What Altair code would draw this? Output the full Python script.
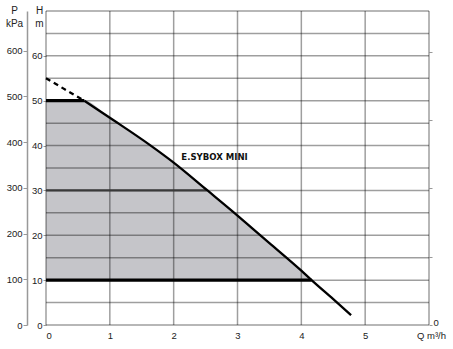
import altair as alt
import pandas as pd

# ---- data ----
area_q = [0, 0.6, 1.0, 1.63, 2.0, 2.52, 3.0, 3.25, 3.5, 4.0, 4.16]
area_h = [50, 50, 46.2, 40.1, 36.2, 30.1, 24.4, 21.3, 18.25, 12.1, 10]

curve_q = [0.6, 1.0, 1.63, 2.0, 2.52, 3.0, 3.25, 3.5, 4.0, 4.16, 4.5, 4.78]
curve_h = [50, 46.2, 40.1, 36.2, 30.1, 24.4, 21.3, 18.25, 12.1, 10, 5.75, 2.2]

dash_q = [0, 0.6]
dash_h = [55, 50]

seg_level = [10, 30, 50]
seg_start = [0, 0, 0]
seg_end = [4.16, 2.52, 0.6]
seg_width = [3.2, 2.2, 3.2]
seg_color = ["#000000", "#3a3a3a", "#000000"]

grid_q = [0, 1, 2, 3, 4, 5, 6]
grid_h = list(range(0, 75, 5))

q_ticks = [0, 1, 2, 3, 4, 5]
h_ticks = [0, 10, 20, 30, 40, 50, 60]
p_ticks = [0, 100, 200, 300, 400, 500, 600]
ft_ticks = [0, 50, 100, 150, 200]

label_text = ["E.SYBOX MINI"]
label_q = [2.12]
label_h = [37.5]

H_MAX = 70
P_MAX = H_MAX * 9.81
FT_MAX = H_MAX / 0.3048

area_df = pd.DataFrame({"Q": area_q, "H": area_h})
curve_df = pd.DataFrame({"Q": curve_q, "H": curve_h})
dash_df = pd.DataFrame({"Q": dash_q, "H": dash_h})
seg_df = pd.DataFrame({"H": seg_level, "Q": seg_start, "Q2": seg_end,
                       "w": seg_width, "c": seg_color})
gq_df = pd.DataFrame({"Q": grid_q})
gh_df = pd.DataFrame({"H": grid_h})
lab_df = pd.DataFrame({"t": label_text, "Q": label_q, "H": label_h})

xs = alt.Scale(domain=[0, 6], nice=False, zero=False)
ys = alt.Scale(domain=[0, H_MAX], nice=False, zero=False)
LF = "Liberation Sans"

x_axis = alt.Axis(values=q_ticks, format="d", grid=False, domain=False,
                  ticks=False, labelPadding=5, labelFontSize=9.5,
                  labelColor="#222", labelFont=LF, title="Q m³/h",
                  titleX=385, titleY=10, titleAlign="center",
                  titleBaseline="middle", titleFontWeight="normal",
                  titleFontSize=9.5, titleFont=LF, titleColor="#222")
h_axis = alt.Axis(values=h_ticks, format="d", grid=False, domain=False,
                  tickSize=3, tickColor="#999", labelPadding=1,
                  labelFontSize=9.5, labelColor="#222", labelFont=LF,
                  title=["H", "m"], titleAngle=0, titleX=-7, titleY=-6,
                  titleAlign="center", titleBaseline="top", titleLineHeight=13,
                  titleFontWeight="normal", titleFontSize=10, titleFont=LF,
                  titleColor="#222")

area = alt.Chart(area_df).mark_area(color="#c5c5c9", opacity=1,
                                    interpolate="monotone").encode(
    x=alt.X("Q:Q", scale=xs, axis=x_axis),
    y=alt.Y("H:Q", scale=ys, axis=h_axis),
    y2=alt.datum(10),
)
vgrid = alt.Chart(gq_df).mark_rule(color="black", opacity=0.38, strokeWidth=1.5).encode(
    x=alt.X("Q:Q", scale=xs))
hgrid = alt.Chart(gh_df).mark_rule(color="black", opacity=0.38, strokeWidth=1.5).encode(
    y=alt.Y("H:Q", scale=ys))
segs = alt.Chart(seg_df).mark_rule().encode(
    x=alt.X("Q:Q", scale=xs), x2="Q2:Q",
    y=alt.Y("H:Q", scale=ys),
    strokeWidth=alt.StrokeWidth("w:Q", scale=None),
    color=alt.Color("c:N", scale=None),
)
curve = alt.Chart(curve_df).mark_line(color="black", strokeWidth=2.3,
                                      interpolate="monotone").encode(
    x=alt.X("Q:Q", scale=xs), y=alt.Y("H:Q", scale=ys))
dash = alt.Chart(dash_df).mark_line(color="black", strokeWidth=2.3,
                                     strokeDash=[5, 4]).encode(
    x=alt.X("Q:Q", scale=xs), y=alt.Y("H:Q", scale=ys))
label = alt.Chart(lab_df).mark_text(align="left", baseline="middle",
                                    font="DejaVu Sans Condensed, Liberation Sans",
                                    fontWeight="bold", fontSize=9.5,
                                    color="#111").encode(
    x=alt.X("Q:Q", scale=xs), y=alt.Y("H:Q", scale=ys), text="t:N")

main = alt.layer(area, vgrid, hgrid, segs, curve, dash, label)

p_layer = alt.Chart(curve_df).transform_calculate(P="datum.H * 9.81").mark_point(
    opacity=0).encode(
    x=alt.X("Q:Q", scale=xs),
    y=alt.Y("P:Q", scale=alt.Scale(domain=[0, P_MAX], nice=False, zero=False),
            axis=alt.Axis(orient="left", offset=19, values=p_ticks, format="d",
                          grid=False, domainColor="#999", domainWidth=1.5,
                          tickColor="#999", tickSize=4, labelPadding=1,
                          labelFontSize=9.5, labelColor="#222", labelFont=LF,
                          title=["P", "kPa"], titleAngle=0, titleX=-13,
                          titleY=-6, titleAlign="center", titleBaseline="top",
                          titleLineHeight=13, titleFontWeight="normal",
                          titleFontSize=10, titleFont=LF, titleColor="#222")),
)
ft_layer = alt.Chart(curve_df).transform_calculate(F="datum.H / 0.3048").mark_point(
    opacity=0).encode(
    x=alt.X("Q:Q", scale=xs),
    y=alt.Y("F:Q", scale=alt.Scale(domain=[0, FT_MAX], nice=False, zero=False),
            axis=alt.Axis(orient="right", offset=0, values=ft_ticks, grid=False,
                          domain=False, tickColor="#999", tickSize=3,
                          labelExpr="datum.value == 0 ? '0' : ''",
                          labelBaseline="alphabetic", labelPadding=1,
                          labelFontSize=9.5, labelColor="#222", labelFont=LF,
                          title=None)),
)

chart = alt.layer(main, p_layer, ft_layer).resolve_scale(
    y="independent").resolve_axis(y="independent").properties(
    width=383, height=314,
    autosize=alt.AutoSizeParams(type="none"),
    padding={"left": 46, "top": 11, "right": 24, "bottom": 24},
).configure_view(stroke=None)

chart.save("out.html", embed_options={"renderer": "svg", "actions": False})
